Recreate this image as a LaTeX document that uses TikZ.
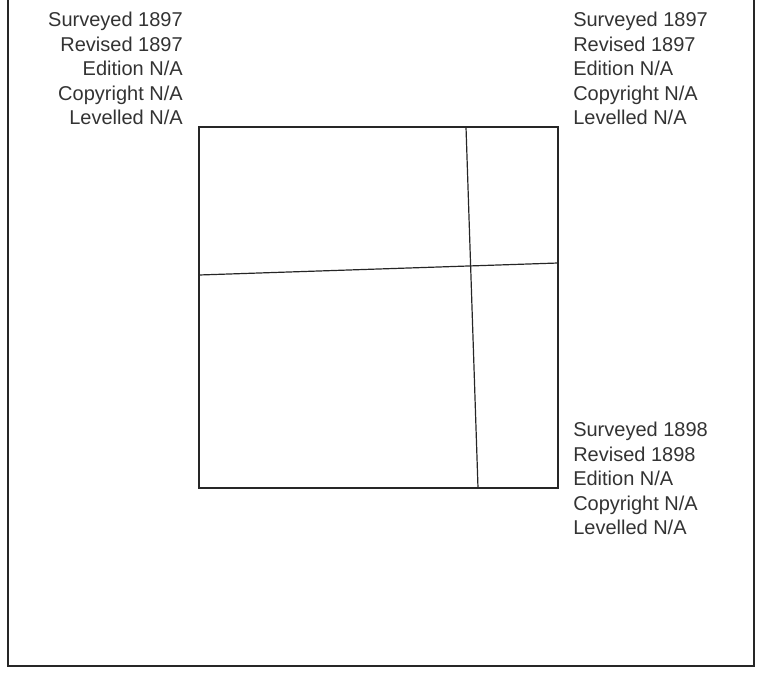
\documentclass[tikz,border=0pt]{standalone}
\usepackage{fontspec}
\setmainfont{Liberation Sans}
\begin{document}
\begin{tikzpicture}[x=0.75pt,y=-0.75pt,
  lbl/.style={inner sep=0pt,text=black!80,font=\fontsize{15}{18}\selectfont},
  lblL/.style={lbl,anchor=base east},
  lblR/.style={lbl,anchor=base west},
  sheet/.style={draw=black!85,line width=0.9pt},
  frame/.style={draw=black!85,line width=1.6pt}]
\useasboundingbox (0,0) rectangle (763,675);
\draw[frame] (8,0) -- (8,666) -- (754,666) -- (754,0);
% sheet outline
\coordinate (tl) at (199,127);
\coordinate (tr) at (558,127);
\coordinate (br) at (558,488);
\coordinate (bl) at (199,488);
\draw[sheet] (tl) -- (tr) -- (br) -- (bl) -- cycle;
\coordinate (hl) at (199,275);
\coordinate (hr) at (558,263);
\coordinate (vt) at (466,127);
\coordinate (vb) at (478,488);
\draw[sheet] (hl) -- (hr);
\draw[sheet] (vt) -- (vb);
% top-left labels
\node[lblL] (a1) at (183,26) {Surveyed 1897};
\node[lblL] (a2) at (183,51) {Revised 1897};
\node[lblL] (a3) at (183,75) {Edition N/A};
\node[lblL] (a4) at (183,100) {Copyright N/A};
\node[lblL] (a5) at (183,124) {Levelled N/A};
% top-right labels
\node[lblR] (b1) at (573,26) {Surveyed 1897};
\node[lblR] (b2) at (573,51) {Revised 1897};
\node[lblR] (b3) at (573,75) {Edition N/A};
\node[lblR] (b4) at (573,100) {Copyright N/A};
\node[lblR] (b5) at (573,124) {Levelled N/A};
% bottom-right labels
\node[lblR] (c1) at (573,436) {Surveyed 1898};
\node[lblR] (c2) at (573,461) {Revised 1898};
\node[lblR] (c3) at (573,485) {Edition N/A};
\node[lblR] (c4) at (573,510) {Copyright N/A};
\node[lblR] (c5) at (573,534) {Levelled N/A};
\end{tikzpicture}
\end{document}
